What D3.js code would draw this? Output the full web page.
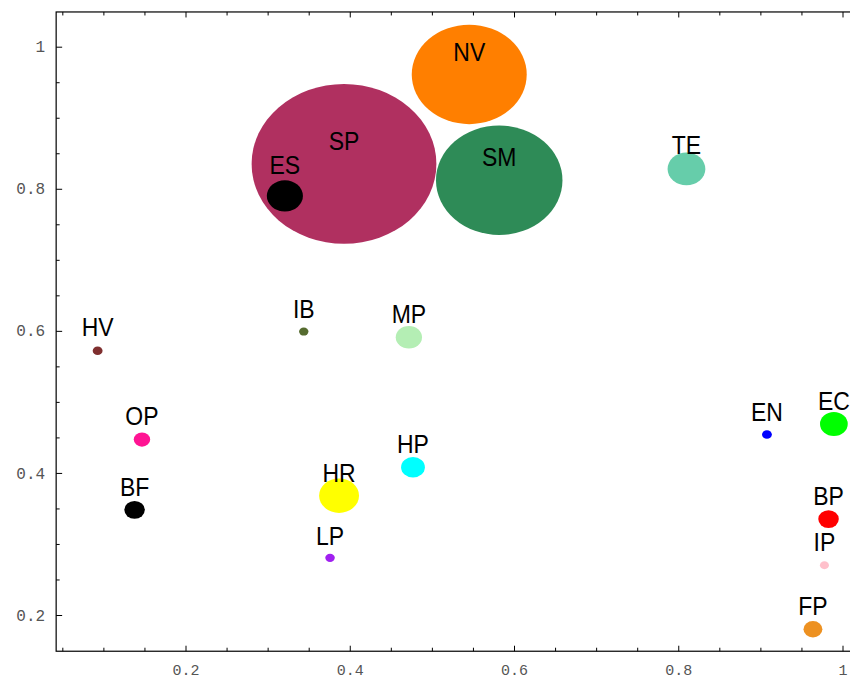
<!DOCTYPE html>
<html>
<head>
<meta charset="utf-8">
<script src="https://cdn.jsdelivr.net/npm/d3@7"></script>
<style>
  html, body { margin: 0; padding: 0; background: #fff; }
  svg { display: block; }
</style>
</head>
<body>
<svg id="chart" width="850" height="681"></svg>
<script>
// ---- data ----
const labels = ["SP","ES","NV","SM","TE","HV","IB","MP","OP","BF","HR","LP","HP","EN","EC","BP","IP","FP"];
const xValues = [0.393,0.321,0.5455,0.582,0.810,0.093,0.344,0.472,0.147,0.138,0.387,0.376,0.477,0.908,0.9895,0.983,0.978,0.964];
const yValues = [0.835,0.790,0.961,0.812,0.828,0.572,0.599,0.591,0.447,0.348,0.368,0.2805,0.408,0.454,0.469,0.335,0.270,0.180];
const radii   = [0.1125,0.022,0.070,0.077,0.023,0.006,0.0057,0.016,0.010,0.0125,0.0243,0.0058,0.0145,0.006,0.0169,0.0125,0.0055,0.0115];
const labelLift = [0.0195,0.031,0.0195,0.0195,0.0215,0.0205,0.0185,0.0195,0.0205,0.0195,0.0195,0.018,0.0195,0.0195,0.0195,0.0195,0.0195,0.0195];
const colors = ["#B03060","#000000","#FF7F00","#2E8B57","#66CDAA","#7F2F2F","#556B2F","#B4EEB4","#FF1493","#000000","#FFFF00","#A020F0","#00FFFF","#0000FF","#00FF00","#FF0000","#FFC0CB","#ED9121"];
const majorTicks = [0.2,0.4,0.6,0.8,1.0];
const xMinorTicks = [0.05,0.1,0.15,0.25,0.3,0.35,0.45,0.5,0.55,0.65,0.7,0.75,0.85,0.9,0.95];
const yMinorTicks = [0.25,0.3,0.35,0.45,0.5,0.55,0.65,0.7,0.75,0.85,0.9,0.95];

// ---- layout ----
const svg = d3.select("#chart");
const x = d3.scaleLinear().domain([0.2, 1]).range([185.5, 842.5]);
const y = d3.scaleLinear().domain([0.2, 1]).range([615, 46.7]);
const xMin = 0.0425, xMax = 1.03, yMin = 0.149, yMax = 1.0489;
const L = x(xMin), R = x(xMax), T = y(yMax), B = y(yMin);

const fmt = d => (Math.abs(d - 1) < 1e-9 ? "1" : d3.format(".1f")(d));

// bubbles
const data = labels.map((l, i) => ({l, x: xValues[i], y: yValues[i], r: radii[i], c: colors[i], lift: labelLift[i]}));
svg.append("g").selectAll("ellipse").data(data).join("ellipse")
  .attr("cx", d => x(d.x))
  .attr("cy", d => y(d.y))
  .attr("rx", d => x(d.x + d.r) - x(d.x))
  .attr("ry", d => y(d.y) - y(d.y + d.r))
  .attr("fill", d => d.c);

// labels
svg.append("g").selectAll("text").data(data).join("text")
  .attr("transform", d => `translate(${x(d.x)},${y(d.y + d.lift)}) scale(1,1.12)`)
  .attr("text-anchor", "middle")
  .attr("font-family", "'Liberation Sans', Arial, sans-serif")
  .attr("font-size", 23)
  .attr("fill", "#000")
  .text(d => d.l);

// frame
svg.append("rect")
  .attr("x", L).attr("y", T).attr("width", R - L).attr("height", B - T)
  .attr("fill", "none").attr("stroke", "#000").attr("stroke-width", 1.2);

function styleAxis(g, size) {
  g.select(".domain").remove();
  g.selectAll(".tick line").attr("stroke", "#000");
  g.selectAll(".tick text")
    .attr("font-family", "'Liberation Mono', 'DejaVu Sans Mono', monospace")
    .attr("font-size", size || 16)
    .attr("fill", "#555");
}

// bottom axis
svg.append("g").attr("transform", `translate(0,${B})`)
  .call(d3.axisBottom(x).tickValues(majorTicks).tickSize(-5.5).tickPadding(13.5).tickFormat(fmt))
  .call(g => styleAxis(g, 15));
svg.append("g").attr("transform", `translate(0,${B})`)
  .call(d3.axisBottom(x).tickValues(xMinorTicks).tickSize(-3.5).tickFormat(""))
  .call(g => styleAxis(g));
// top axis ticks
svg.append("g").attr("transform", `translate(0,${T})`)
  .call(d3.axisTop(x).tickValues(majorTicks).tickSize(-5.5).tickFormat(""))
  .call(g => styleAxis(g));
svg.append("g").attr("transform", `translate(0,${T})`)
  .call(d3.axisTop(x).tickValues(xMinorTicks).tickSize(-3.5).tickFormat(""))
  .call(g => styleAxis(g));
// left axis
svg.append("g").attr("transform", `translate(${L},0)`)
  .call(d3.axisLeft(y).tickValues(majorTicks).tickSize(-6).tickPadding(11).tickFormat(fmt))
  .call(g => styleAxis(g, 16));
svg.append("g").attr("transform", `translate(${L},0)`)
  .call(d3.axisLeft(y).tickValues(yMinorTicks).tickSize(-3.5).tickFormat(""))
  .call(g => styleAxis(g));
</script>
</body>
</html>
